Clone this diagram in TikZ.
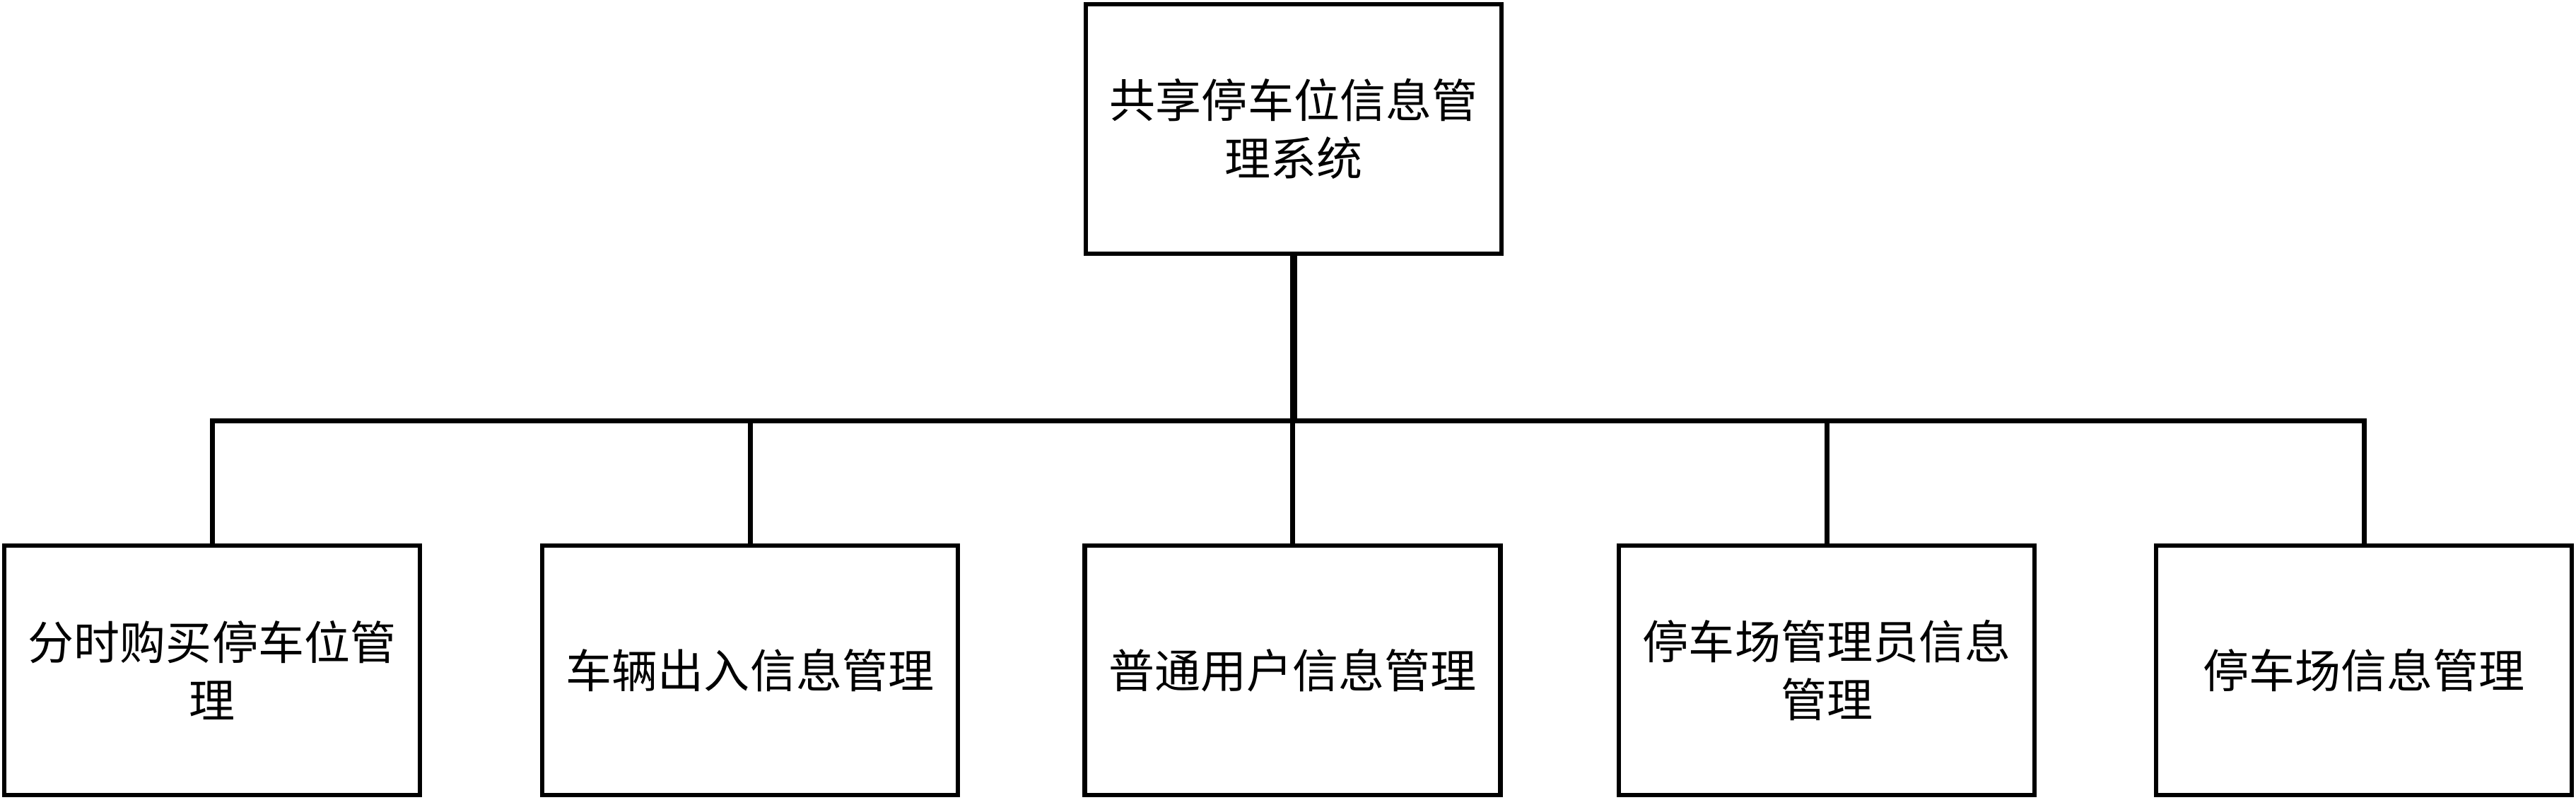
\documentclass[tikz,border=0pt]{standalone}
\usepackage{fontspec}
\newfontfamily\cjk{Noto Sans CJK SC}
\tikzset{
  box/.style={draw=black, line width=0.068cm, rectangle, minimum width=5.88cm, minimum height=3.53cm,
    inner sep=0pt, align=center, font=\cjk\fontsize{18.5pt}{23.3pt}\selectfont},
  conn/.style={draw=black, line width=0.07cm},
  trunk/.style={draw=black, line width=0.1cm}
}
\begin{document}
\begin{tikzpicture}
\useasboundingbox (0,0) rectangle (36.44,-11.31);
\node[box] (top) at (18.30,-1.825) {共享停车位信息管\\理系统};
\node[box] (b1) at (3.00,-9.485) {分时购买停车位管\\理};
\node[box] (b2) at (10.61,-9.485) {车辆出入信息管理};
\node[box] (b3) at (18.285,-9.485) {普通用户信息管理};
\node[box] (b4) at (25.84,-9.485) {停车场管理员信息\\管理};
\node[box] (b5) at (33.44,-9.485) {停车场信息管理};
\coordinate (j) at (18.30,-5.955);
\draw[trunk] (top.south) -- (j);
\draw[conn] (b1.north) -- (b1.north |- j) -- (b5.north |- j) -- (b5.north);
\draw[conn] (b2.north) -- (b2.north |- j);
\draw[conn] (b3.north) -- (b3.north |- j);
\draw[conn] (b4.north) -- (b4.north |- j);
\end{tikzpicture}
\end{document}
